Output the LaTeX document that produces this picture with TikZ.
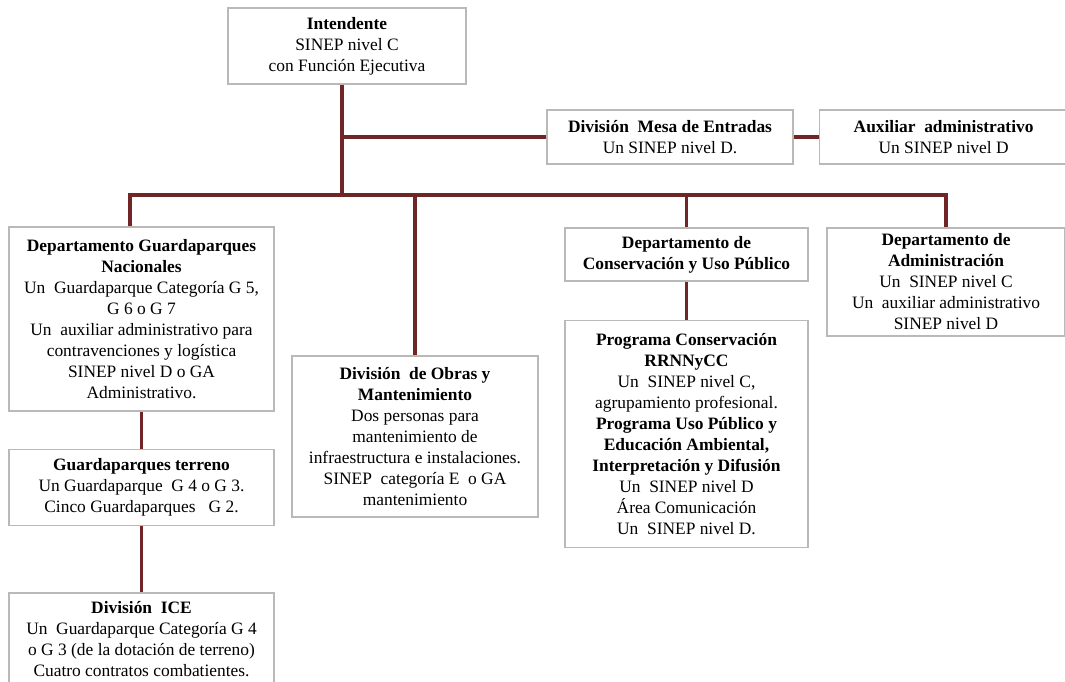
\documentclass[tikz,border=0pt]{standalone}
\usepackage{fontspec}
\setmainfont{Liberation Serif}
\usetikzlibrary{positioning}
\definecolor{linkred}{RGB}{112,38,38}
\definecolor{boxgray}{RGB}{185,185,185}
\tikzset{x=1pt, y=-1pt, node distance=25pt,
  box/.style={draw=boxgray, line width=1.6pt, fill=white, align=center, inner sep=0pt,
    font=\fontsize{17.4}{21}\selectfont},
  link/.style={draw=linkred, line width=3.6pt, line join=miter}}

\begin{document}
\begin{tikzpicture}
            \useasboundingbox (0,0) rectangle (1065,681);
            \clip (0,0) rectangle (1065,681);

            \coordinate (trunk) at (342,195);
            \coordinate (busL) at (130,195);

            \node[box, minimum width=238pt, minimum height=76pt] (intendente) at (347,46)
                {\textbf{Intendente}\\SINEP nivel C\\con Función Ejecutiva};
            \node[box, minimum width=246pt, minimum height=54pt] (mesa) at (670,137)
                {\textbf{División\ \ Mesa de Entradas}\\Un SINEP nivel D.};
            \node[box, minimum width=248pt, minimum height=54pt, right=25pt of mesa] (aux)
                {\textbf{Auxiliar\ \ administrativo}\\Un SINEP nivel D};

            \node[box, minimum width=265pt, minimum height=184pt] (guard) at (141.5,319)
                {\textbf{Departamento Guardaparques}\\\textbf{Nacionales}\\Un\ \ Guardaparque Categoría G 5,\\G 6 o G 7\\Un\ \ auxiliar administrativo para\\contravenciones y logística\\SINEP nivel D o GA\\Administrativo.};
            \node[box, minimum width=265pt, minimum height=76pt, below=37pt of guard] (terreno)
                {\textbf{Guardaparques terreno}\\Un Guardaparque\ \ G 4 o G 3.\\Cinco Guardaparques\ \ \ G 2.};
            \node[box, minimum width=265pt, minimum height=92pt, below=66pt of terreno] (ice)
                {\textbf{División\ \ ICE}\\Un\ \ Guardaparque Categoría G 4\\o G 3 (de la dotación de terreno)\\Cuatro contratos combatientes.};

            \node[box, minimum width=246pt, minimum height=161pt] (obras) at (415,436.5)
                {\textbf{División\ \ de Obras y}\\\textbf{Mantenimiento}\\Dos personas para\\mantenimiento de\\infraestructura e instalaciones.\\SINEP\ \ categoría E\ \ o GA\\mantenimiento};

            \node[box, minimum width=243pt, minimum height=53pt] (cons) at (686.5,254.5)
                {\textbf{Departamento de}\\\textbf{Conservación y Uso Público}};
            \node[box, minimum width=243pt, minimum height=227pt, below=38pt of cons] (prog)
                {\textbf{Programa Conservación}\\\textbf{RRNNyCC}\\Un\ \ SINEP nivel C,\\agrupamiento profesional.\\\textbf{Programa Uso Público y}\\\textbf{Educación Ambiental,}\\\textbf{Interpretación y Difusión}\\Un\ \ SINEP nivel D\\Área Comunicación\\Un\ \ SINEP nivel D.};

            \node[box, minimum width=238pt, minimum height=108pt] (admin) at (946,282)
                {\textbf{Departamento de}\\\textbf{Administración}\\Un\ \ SINEP nivel C\\Un\ \ auxiliar administrativo\\SINEP nivel D};

            % connectors
            \draw[link] (intendente.south -| trunk) -- (trunk);
            \draw[link] (trunk |- mesa.west) -- (mesa.west);
            \draw[link] (mesa.east) -- (aux.west);
            \draw[link] (busL |- guard.north) -- (busL) -| (admin.north);
            \draw[link] (obras.north) -- (obras.north |- busL);
            \draw[link] (cons.north) -- (cons.north |- busL);
            \draw[link] (guard.south) -- (terreno.north);
            \draw[link] (terreno.south) -- (ice.north);
            \draw[link] (cons.south) -- (prog.north);
        \end{tikzpicture}
\end{document}
